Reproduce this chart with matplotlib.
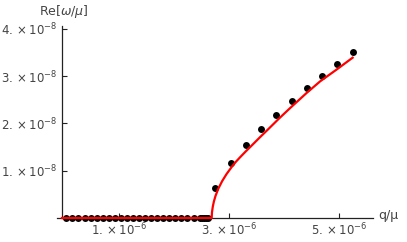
import numpy as np
import matplotlib
matplotlib.use('Agg')
import matplotlib.pyplot as plt

# zero-branch points (q in 1e-6, Re in 1e-8)
q_zero = [0.04, 0.15, 0.26, 0.37, 0.48, 0.59, 0.70, 0.81, 0.92, 1.03, 1.14,
          1.25, 1.36, 1.47, 1.58, 1.69, 1.80, 1.91, 2.02, 2.13, 2.24, 2.35,
          2.46, 2.50, 2.54, 2.58, 2.61]
re_zero = [0.0] * len(q_zero)

# unstable branch points
q_pts = [2.74, 3.025, 3.30, 3.58, 3.85, 4.13, 4.41, 4.68, 4.96, 5.24]
re_pts = [0.64, 1.17, 1.54, 1.88, 2.18, 2.47, 2.74, 3.00, 3.25, 3.50]

# red curve
q_curve = [-0.04, 2.68, 2.685, 2.70, 2.72, 2.75, 2.80, 2.87, 2.95, 3.05, 3.12,
           3.20, 3.30, 3.40, 3.55, 3.70, 3.90, 4.10, 4.40, 4.65, 4.95, 5.24]
re_curve = [0, 0, 0.12, 0.24, 0.35, 0.47, 0.62, 0.78, 0.93, 1.09, 1.19,
            1.29, 1.41, 1.525, 1.70, 1.87, 2.10, 2.32, 2.64, 2.89, 3.14, 3.39]

xticks = [1, 3, 5]
yticks = [1, 2, 3, 4]

W, H = 407, 242
fig = plt.figure(figsize=(W / 100, H / 100), dpi=100)
ax = fig.add_axes([57 / W, 24 / H, (373 - 57) / W, (218 - 26) / H])

ax.plot(np.array(q_zero + q_pts) * 1e-6, np.array(re_zero + re_pts) * 1e-8, 'o',
        color='black', ms=5.0, mew=0, zorder=3, clip_on=False)
ax.plot(np.array(q_curve) * 1e-6, np.array(re_curve) * 1e-8, color='#ff0000',
        lw=1.6, zorder=4, clip_on=False, solid_joinstyle='round')

ax.set_xlim(-0.13e-6, 5.61e-6)
ax.set_ylim(0, 4.06e-8)

for s in ['top', 'right']:
    ax.spines[s].set_visible(False)
ax.spines['left'].set_position(('data', -0.04e-6))
ax.spines['bottom'].set_position(('data', 0))
for s in ['left', 'bottom']:
    ax.spines[s].set_color('#222222')
    ax.spines[s].set_linewidth(0.9)

ax.set_xticks([v * 1e-6 for v in xticks])
ax.set_xticklabels([r'$%d.\times10^{-6}$' % v for v in xticks])
ax.set_yticks([v * 1e-8 for v in yticks])
ax.set_yticklabels([r'$%d.\times10^{-8}$' % v for v in yticks])
ax.tick_params(direction='in', length=3.5, width=0.8, colors='#222222',
               labelcolor='#444444', labelsize=8.5, pad=3)

fig.text(64 / W, 1 - 12 / H, r'Re[$\omega/\mu$]', ha='center', va='center',
         fontsize=9, color='#444444')
fig.text(378 / W, 1 - 215 / H, 'q/μ', ha='left', va='center',
         fontsize=9, color='#444444')

fig.savefig('out.png', dpi=100)
